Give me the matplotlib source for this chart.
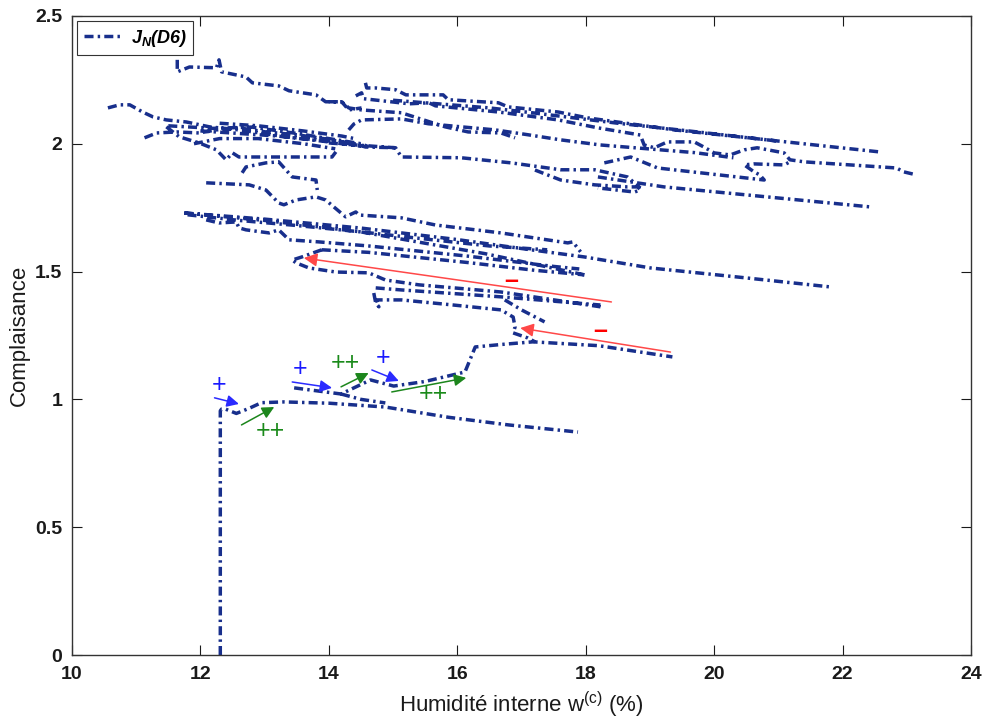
import numpy as np
import matplotlib
matplotlib.use('Agg')
import matplotlib.pyplot as plt

plt.rcParams['font.family'] = ['Liberation Sans', 'DejaVu Sans']
plt.rcParams['mathtext.default'] = 'regular'

# J_N(D6) trajectory pieces (humidity %, compliance)
bottom_x = [12.31, 12.31, 12.33, 12.39, 12.56, 12.76, 12.95, 13.3, 14.0, 14.88, 15.86, 16.8, 17.88]
bottom_y = [0.0, 0.955, 0.962, 0.962, 0.945, 0.965, 0.987, 0.99, 0.985, 0.97, 0.93, 0.90, 0.872]

rise_x = [13.46, 14.19, 14.65, 15.01, 15.5, 16.12, 16.28, 16.7, 17.18, 18.2, 19.35]
rise_y = [1.045, 1.021, 1.076, 1.052, 1.07, 1.107, 1.205, 1.215, 1.225, 1.21, 1.166]

merge_x = [14.19, 14.5, 14.88]
merge_y = [1.021, 1.0, 0.986]

jog_x = [14.70, 14.73, 14.78, 14.74, 15.13, 15.9, 16.68, 16.87, 16.90, 16.87, 17.10, 17.21]
jog_y = [1.416, 1.377, 1.362, 1.389, 1.389, 1.37, 1.350, 1.322, 1.283, 1.260, 1.240, 1.225]

mid14_x = [14.73, 15.13, 16.68, 18.23]
mid14_y = [1.436, 1.428, 1.401, 1.369]

jag_x = [16.74, 17.0, 17.36]
jag_y = [1.389, 1.35, 1.303]

loop15_x = [13.89, 13.80, 13.58, 13.43, 13.49, 13.69, 14.11, 14.62, 14.88, 15.40, 16.68, 18.23]
loop15_y = [1.585, 1.577, 1.557, 1.545, 1.534, 1.514, 1.498, 1.495, 1.467, 1.448, 1.420, 1.362]

loop15b_x = [13.89, 14.62, 16.17, 17.2, 17.98]
loop15b_y = [1.585, 1.575, 1.535, 1.505, 1.487]

fan1_x = [11.75, 13.0, 14.5, 16.0, 17.0, 17.98, 19.01, 20.5, 21.8]
fan1_y = [1.729, 1.705, 1.67, 1.625, 1.59, 1.557, 1.514, 1.475, 1.440]

fan2_x = [11.75, 13.0, 14.5, 15.4, 16.43, 17.98]
fan2_y = [1.729, 1.70, 1.655, 1.615, 1.57, 1.487]

fan3_x = [12.09, 12.29, 12.56, 12.60, 12.71, 13.07, 13.22, 13.38, 13.84, 14.62, 16.17, 17.5, 17.9]
fan3_y = [1.702, 1.690, 1.694, 1.671, 1.663, 1.651, 1.663, 1.624, 1.616, 1.60, 1.56, 1.52, 1.51]

fan4_x = [11.8, 12.6, 13.5, 14.5, 15.4, 16.5, 17.4]
fan4_y = [1.722, 1.70, 1.68, 1.655, 1.63, 1.60, 1.585]

peak_x = [12.09, 12.76, 13.02, 13.22, 13.30, 13.49, 13.80, 13.95, 14.26, 14.42, 14.47,
          15.13, 15.66, 16.68, 17.72, 17.80, 17.92]
peak_y = [1.847, 1.839, 1.819, 1.768, 1.761, 1.780, 1.792, 1.780, 1.714, 1.733, 1.721,
          1.710, 1.682, 1.651, 1.612, 1.616, 1.577]

hook_x = [12.65, 12.71, 13.02, 13.22, 13.43, 13.80, 13.82]
hook_y = [1.886, 1.909, 1.925, 1.929, 1.870, 1.858, 1.819]

left1_x = [10.56, 10.74, 10.90, 11.10, 11.26, 11.47, 11.78, 12.14, 12.60, 13.33, 13.80, 14.36, 14.57, 15.09]
left1_y = [2.140, 2.152, 2.152, 2.124, 2.105, 2.093, 2.085, 2.066, 2.054, 2.027, 2.015, 2.003, 1.987, 1.984]

left2_x = [11.13, 11.32, 11.63, 11.98, 12.25, 12.60, 13.02, 13.53, 14.05, 14.42]
left2_y = [2.023, 2.042, 2.046, 2.042, 2.054, 2.062, 2.046, 2.034, 2.015, 1.995]

left3_x = [11.47, 11.67, 11.98, 12.25, 12.40, 12.50, 12.60, 12.71, 14.05, 14.11]
left3_y = [2.066, 2.027, 2.003, 1.976, 1.937, 1.964, 1.948, 1.948, 1.948, 1.968]

left4_x = [11.5, 12.2, 12.8, 13.5, 14.0, 14.5, 14.6]
left4_y = [2.07, 2.06, 2.065, 2.04, 2.02, 2.0, 1.99]

left5_x = [12.3, 12.9, 13.6, 14.2, 14.4]
left5_y = [2.08, 2.07, 2.05, 2.03, 2.02]

left6_x = [12.0, 12.6, 13.2, 13.9, 14.5]
left6_y = [2.05, 2.04, 2.03, 2.01, 1.99]

left7_x = [11.9, 12.3, 12.9, 13.6, 14.1]
left7_y = [2.0, 2.02, 2.02, 2.0, 1.98]

top_x = [11.64, 11.64, 11.83, 12.25, 12.29, 12.33, 12.71, 12.81, 13.22, 13.38, 13.80, 13.95, 14.20, 14.31, 14.51]
top_y = [2.328, 2.281, 2.30, 2.297, 2.328, 2.281, 2.261, 2.238, 2.226, 2.207, 2.191, 2.164, 2.164, 2.132, 2.140]

up1_x = [14.57, 14.59, 14.73, 15.04, 15.20, 15.78, 15.86, 16.64, 16.79, 17.57, 18.03, 19.38, 22.57]
up1_y = [2.238, 2.218, 2.218, 2.211, 2.191, 2.191, 2.172, 2.160, 2.144, 2.124, 2.101, 2.054, 1.968]

up2_x = [14.42, 14.51, 14.54, 15.25, 15.56, 15.66, 16.64, 17.57, 18.19, 18.85, 18.91, 19.07, 19.27,
         19.69, 19.84, 20.0, 20.25, 20.47, 20.67, 21.09, 21.18, 21.40, 22.84, 22.95, 23.15]
up2_y = [2.187, 2.199, 2.176, 2.156, 2.160, 2.148, 2.124, 2.093, 2.062, 2.034, 1.995, 1.984, 2.007,
         2.007, 1.987, 1.964, 1.956, 1.976, 1.984, 1.964, 1.937, 1.929, 1.905, 1.890, 1.878]

up3_x = [14.31, 14.39, 14.51, 15.13, 15.55, 16.06, 16.59, 17.10, 17.61, 18.23, 19.7, 20.3]
up3_y = [2.054, 2.077, 2.093, 2.097, 2.078, 2.066, 2.054, 2.035, 2.015, 1.995, 1.965, 1.945]

up4_x = [14.0, 14.20, 14.31, 14.51, 15.13, 15.81, 16.17, 16.68, 16.90]
up4_y = [2.164, 2.164, 2.140, 2.132, 2.121, 2.066, 2.046, 2.042, 2.023]

up5_x = [15.0, 16.5, 17.2, 18.5, 19.6, 20.3, 21.0]
up5_y = [2.17, 2.14, 2.12, 2.08, 2.05, 2.03, 2.01]

band1_x = [14.0, 14.42, 15.04, 15.13, 16.06, 16.84, 17.61, 18.14, 18.65, 18.85]
band1_y = [2.003, 1.995, 1.984, 1.948, 1.945, 1.925, 1.898, 1.898, 1.870, 1.827]

band2_x = [18.19, 19.22, 22.42]
band2_y = [1.870, 1.831, 1.753]

band3_x = [17.21, 17.61, 18.14, 18.65, 18.81, 18.85, 18.76, 18.19]
band3_y = [1.897, 1.858, 1.839, 1.831, 1.831, 1.819, 1.811, 1.827]

band4_x = [18.29, 18.70, 19.12, 20.78, 20.71, 20.62, 20.47, 20.62, 21.09, 21.18]
band4_y = [1.925, 1.948, 1.905, 1.858, 1.878, 1.890, 1.917, 1.921, 1.917, 1.929]

pieces = [(bottom_x, bottom_y), (rise_x, rise_y), (merge_x, merge_y), (jog_x, jog_y),
          (mid14_x, mid14_y), (jag_x, jag_y), (loop15_x, loop15_y), (loop15b_x, loop15b_y),
          (fan1_x, fan1_y), (fan2_x, fan2_y), (fan3_x, fan3_y), (fan4_x, fan4_y),
          (peak_x, peak_y), (hook_x, hook_y), (left1_x, left1_y), (left2_x, left2_y),
          (left3_x, left3_y), (left4_x, left4_y), (left5_x, left5_y), (left6_x, left6_y),
          (left7_x, left7_y), (top_x, top_y),
          (up1_x, up1_y), (up2_x, up2_y), (up3_x, up3_y), (up4_x, up4_y), (up5_x, up5_y),
          (band1_x, band1_y), (band2_x, band2_y), (band3_x, band3_y), (band4_x, band4_y)]

# annotation arrows: (tail x, tail y, head x, head y)
red_arrows = [(18.40, 1.381, 13.61, 1.553), (19.32, 1.185, 16.98, 1.279)]
blue_arrows = [(12.22, 1.006, 12.60, 0.982), (13.43, 1.068, 14.05, 1.045), (14.67, 1.115, 15.09, 1.072)]
green_arrows = [(12.64, 0.900, 13.15, 0.970), (14.19, 1.049, 14.62, 1.103), (14.98, 1.029, 16.14, 1.084)]
minus_pos = [(16.84, 1.463), (18.23, 1.268)]
plus_pos = [(12.29, 1.056), (13.55, 1.119), (14.85, 1.162)]
pp_pos = [(13.09, 0.876), (14.26, 1.142), (15.63, 1.021)]

xs, ys = [], []
for px, py in pieces:
    xs += list(px) + [np.nan]
    ys += list(py) + [np.nan]

fig = plt.figure(figsize=(9.83, 7.21), dpi=100)
ax = fig.add_axes([0.0732, 0.0915, 0.9146, 0.8865])

navy = '#182f8c'
ax.plot(xs, ys, color=navy, lw=2.5, ls=(0, (2.6, 1.2, 0.7, 1.2)), label='$J_N$(D6)')

for x0, y0, x1, y1 in red_arrows:
    ax.annotate('', xy=(x1, y1), xytext=(x0, y0),
                arrowprops=dict(arrowstyle='-|>', color='#ff4848', lw=1.1, mutation_scale=20,
                                shrinkA=0, shrinkB=0))
for x0, y0, x1, y1 in blue_arrows:
    ax.annotate('', xy=(x1, y1), xytext=(x0, y0),
                arrowprops=dict(arrowstyle='-|>', color='#2a2aff', lw=1.1, mutation_scale=18,
                                shrinkA=0, shrinkB=0))
for x0, y0, x1, y1 in green_arrows:
    ax.annotate('', xy=(x1, y1), xytext=(x0, y0),
                arrowprops=dict(arrowstyle='-|>', color='#1c861c', lw=1.1, mutation_scale=18,
                                shrinkA=0, shrinkB=0))

for x, y in minus_pos:
    ax.text(x, y, '\u2013', color='red', fontsize=18, fontweight='bold', ha='center', va='center')
for x, y in plus_pos:
    ax.text(x, y, '+', color='#1a1aff', fontsize=18, ha='center', va='center')
for x, y in pp_pos:
    ax.text(x, y, '++', color='#1a8a1a', fontsize=18, ha='center', va='center')

ax.set_xlim(10, 24)
ax.set_ylim(0, 2.5)
ax.set_xticks(np.arange(10, 25, 2))
ax.set_yticks([0, 0.5, 1, 1.5, 2, 2.5])
ax.set_yticklabels(['0', '0.5', '1', '1.5', '2', '2.5'])
ax.tick_params(direction='in', top=True, right=True, length=7, width=0.8,
               labelsize=14, colors='#1a1a1a')
ax.tick_params(axis='x', pad=8)
ax.tick_params(axis='y', pad=7)
for lab in ax.get_xticklabels() + ax.get_yticklabels():
    lab.set_fontweight('bold')
for s in ax.spines.values():
    s.set_linewidth(1.0)
    s.set_color('#333333')

ax.set_xlabel('Humidité interne w$^{(c)}$ (%)', fontsize=16, color='#1a1a1a', labelpad=5)
ax.set_ylabel('Complaisance', fontsize=16, color='#1a1a1a', labelpad=4)

leg = ax.legend(loc='upper left', prop={'weight': 'bold', 'style': 'italic', 'size': 13},
                handlelength=2.2, borderaxespad=0.3, fancybox=False, edgecolor='#333333',
                framealpha=1, handletextpad=0.4, borderpad=0.35)
leg.get_frame().set_linewidth(0.8)

fig.savefig('out.png', dpi=100)
